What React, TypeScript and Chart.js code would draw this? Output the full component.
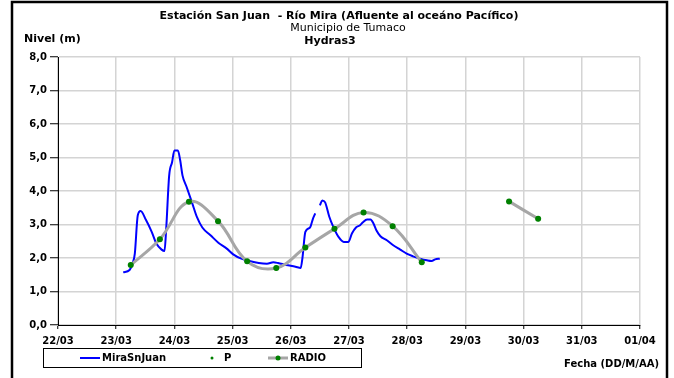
import React, { useEffect, useRef } from "react";
import { Chart, registerables } from "chart.js";

Chart.register(...registerables);

const FONT = "'DejaVu Sans', 'Liberation Sans', Arial, sans-serif";

const titleLines = [
  "Estación San Juan  - Río Mira (Afluente al oceáno Pacífico)",
  "Municipio de Tumaco",
  "Hydras3",
];
const yAxisTitle = "Nivel (m)";
const xAxisTitle = "Fecha (DD/M/AA)";

const xTickLabels = ["22/03", "23/03", "24/03", "25/03", "26/03", "27/03", "28/03", "29/03", "30/03", "31/03", "01/04"];

// days since 22/03 00:00
const miraDays = [
  1.12, 1.23, 1.28, 1.32, 1.37, 1.42, 1.51, 1.61, 1.69, 1.78, 1.83, 1.86, 1.91, 1.96, 2.0, 2.06, 2.1, 2.14,
  2.21, 2.3, 2.39, 2.48, 2.62, 2.76, 2.9, 3.01, 3.15, 3.29, 3.45, 3.59, 3.7, 3.78, 3.92, 4.08, 4.17, 4.2,
  4.25, 4.33, 4.38, 4.42, 4.46, 4.5, 4.54, 4.59, 4.66, 4.73, 4.82, 4.91, 4.99, 5.05, 5.12, 5.19, 5.24,
  5.31, 5.37, 5.42, 5.47, 5.54, 5.65, 5.76, 5.88, 5.99, 6.1, 6.22, 6.34, 6.42, 6.48, 6.56,
];
const miraLevels = [
  1.57, 1.64, 1.83, 2.13, 3.27, 3.4, 3.14, 2.78, 2.43, 2.25, 2.21, 2.9, 4.46, 4.86, 5.21, 5.21, 4.91, 4.46,
  4.12, 3.67, 3.21, 2.91, 2.68, 2.45, 2.28, 2.11, 1.98, 1.91, 1.85, 1.83, 1.87, 1.85, 1.79, 1.74, 1.7, 2.0,
  2.78, 2.91, 3.17, 3.33, null, 3.57, 3.72, 3.66, 3.24, 2.93, 2.63, 2.48, 2.48, 2.73, 2.91, 2.98, 3.07,
  3.15, 3.15, 3.03, 2.83, 2.65, 2.53, 2.38, 2.25, 2.13, 2.05, 1.98, 1.93, 1.91, 1.96, 1.98,
];

const pDays = [1.25, 1.75, 2.25, 2.75, 3.25, 3.75, 4.25, 4.75, 5.25, 5.75, 6.25, 7.75, 8.25];
const pLevels = [1.79, 2.56, 3.68, 3.1, 1.9, 1.7, 2.31, 2.87, 3.36, 2.95, 1.87, 3.69, 3.17];

const radioDays = [1.25, 1.75, 2.25, 2.75, 3.25, 3.75, 4.25, 4.75, 5.25, 5.75, 6.25, 7.0, 7.75, 8.25];
const radioLevels = [1.79, 2.56, 3.68, 3.1, 1.9, 1.7, 2.31, 2.87, 3.36, 2.95, 1.87, null, 3.69, 3.17];

const BLUE = "#0000ff";
const GREEN = "#008000";
const GRAY = "#a6a6a6";

const decorPlugin = {
  id: "decor",
  beforeDraw(chart: any) {
    const ctx = chart.ctx;
    ctx.save();
    ctx.fillStyle = "#ffffff";
    ctx.fillRect(0, 0, chart.width, chart.height);
    ctx.restore();
  },
  afterDraw(chart: any) {
    const ctx = chart.ctx;
    ctx.save();
    // outer frame
    ctx.strokeStyle = "#000";
    ctx.lineWidth = 2.5;
    ctx.strokeRect(12, 2, 655, 420);

    ctx.fillStyle = "#000";
    ctx.textBaseline = "alphabetic";
    ctx.textAlign = "center";
    ctx.font = `bold 11px ${FONT}`;
    ctx.fillText(titleLines[0], 339, 19);
    ctx.font = `11px ${FONT}`;
    ctx.fillText(titleLines[1], 348, 31);
    ctx.font = `bold 11px ${FONT}`;
    ctx.fillText(titleLines[2], 330, 44);

    ctx.textAlign = "left";
    ctx.fillText(yAxisTitle, 24, 42);

    ctx.font = `bold 10px ${FONT}`;
    ctx.textAlign = "right";
    ctx.fillText(xAxisTitle, 659, 367);

    // legend
    ctx.lineWidth = 1;
    ctx.strokeStyle = "#000";
    ctx.strokeRect(43.5, 348.5, 318, 19);
    const ly = 358;
    const ds = chart.data.datasets;
    ctx.textAlign = "left";
    ctx.textBaseline = "middle";
    ctx.font = `bold 10px ${FONT}`;
    // MiraSnJuan
    ctx.strokeStyle = BLUE;
    ctx.lineWidth = 2;
    ctx.beginPath();
    ctx.moveTo(80, ly);
    ctx.lineTo(100, ly);
    ctx.stroke();
    ctx.fillStyle = "#000";
    ctx.fillText(ds[0].label, 102, ly);
    // P
    ctx.fillStyle = GREEN;
    ctx.beginPath();
    ctx.arc(212, ly, 1.5, 0, Math.PI * 2);
    ctx.fill();
    ctx.fillStyle = "#000";
    ctx.fillText(ds[1].label, 224, ly);
    // RADIO
    ctx.strokeStyle = GRAY;
    ctx.lineWidth = 3;
    ctx.beginPath();
    ctx.moveTo(268, ly);
    ctx.lineTo(288, ly);
    ctx.stroke();
    ctx.fillStyle = GREEN;
    ctx.beginPath();
    ctx.arc(278, ly, 2.5, 0, Math.PI * 2);
    ctx.fill();
    ctx.fillStyle = "#000";
    ctx.fillText(ds[2].label, 290, ly);
    ctx.restore();
  },
};

export default function App() {
  const ref = useRef<HTMLCanvasElement>(null);

  useEffect(() => {
    if (!ref.current) return;
    const tickFont = { family: FONT, size: 10, weight: "bold" as const };
    const chart = new Chart(ref.current, {
      type: "line",
      data: {
        datasets: [
          {
            label: "MiraSnJuan",
            data: miraDays.map((d, i) => ({ x: d, y: miraLevels[i] })),
            borderColor: BLUE,
            backgroundColor: BLUE,
            borderWidth: 2,
            pointRadius: 0,
            cubicInterpolationMode: "monotone",
            spanGaps: false,
            order: 2,
          },
          {
            label: "P",
            data: pDays.map((d, i) => ({ x: d, y: pLevels[i] })),
            showLine: false,
            pointRadius: 2,
            pointBackgroundColor: GREEN,
            pointBorderColor: GREEN,
            borderColor: GREEN,
            backgroundColor: GREEN,
            order: 1,
          },
          {
            label: "RADIO",
            data: radioDays.map((d, i) => ({ x: d, y: radioLevels[i] })),
            borderColor: GRAY,
            backgroundColor: GREEN,
            borderWidth: 3,
            pointRadius: 3,
            pointBorderWidth: 0,
            pointBackgroundColor: GREEN,
            pointBorderColor: GREEN,
            tension: 0.4,
            spanGaps: false,
            order: 0,
          },
        ],
      },
      options: {
        responsive: false,
        animation: false,
        events: [],
        layout: { padding: { left: 0, right: 34, top: 57, bottom: 0 } },
        plugins: { legend: { display: false }, title: { display: false }, tooltip: { enabled: false } },
        scales: {
          x: {
            type: "linear",
            min: 0,
            max: 10,
            afterBuildTicks: (s: any) => {
              s.ticks = xTickLabels.map((_, i) => ({ value: i }));
            },
            afterFit: (s: any) => {
              s.height = 53;
            },
            ticks: {
              callback: (v: any) => xTickLabels[Math.round(Number(v))] ?? "",
              font: tickFont,
              color: "#000",
              maxRotation: 0,
              autoSkip: false,
              padding: 6,
            },
            grid: { color: "#d4d4d4", lineWidth: 1.5, tickLength: 4, tickColor: "#000", tickWidth: 1 },
            border: { color: "#000", width: 1 },
          },
          y: {
            type: "linear",
            min: 0,
            max: 8,
            afterFit: (s: any) => {
              s.width = 58;
            },
            ticks: {
              stepSize: 1,
              callback: (v: any) => Number(v).toFixed(1).replace(".", ","),
              font: tickFont,
              color: "#000",
              padding: 3,
            },
            grid: { color: "#d4d4d4", lineWidth: 1.5, tickLength: 8, tickColor: "#000", tickWidth: 1 },
            border: { color: "#000", width: 1 },
          },
        },
      },
      plugins: [decorPlugin],
    });
    return () => chart.destroy();
  }, []);

  return (
    <div style={{ position: "absolute", left: 0, top: 0, width: 674, height: 378 }}>
      <canvas ref={ref} width={674} height={378} style={{ display: "block" }} />
    </div>
  );
}
